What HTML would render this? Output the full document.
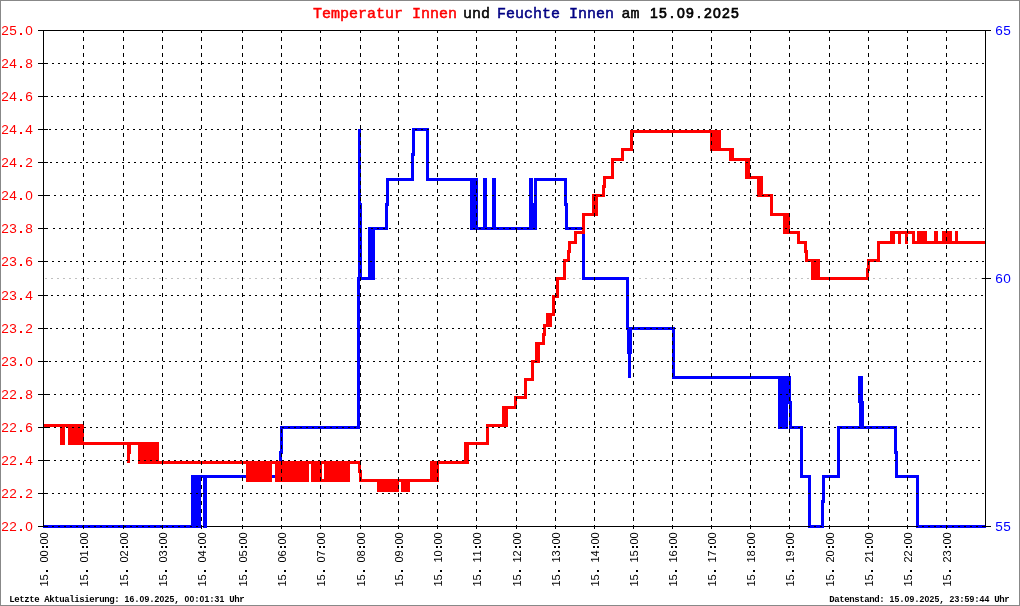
<!DOCTYPE html>
<html><head><meta charset="utf-8"><title>Temperatur Innen und Feuchte Innen</title>
<style>
html,body{margin:0;padding:0;background:#fff;}
body{width:1020px;height:606px;overflow:hidden;font-family:"Liberation Mono",monospace;}
svg{display:block;position:absolute;left:0;top:0;}
text{font-family:"Liberation Mono",monospace;}
.ax{font-size:13.6px;font-family:"Liberation Sans",sans-serif;text-anchor:middle;}
.xl{font-size:11px;fill:#000;font-family:"Liberation Sans",sans-serif;text-anchor:middle;}
.ft{font-size:9px;fill:#000;font-weight:bold;text-anchor:middle;}
.fd{font-size:8.6px;fill:#000;font-weight:bold;text-anchor:middle;font-family:"Liberation Sans",sans-serif;}
.ti{font-size:15px;font-weight:normal;stroke-width:0.5px;paint-order:stroke;}
.td{font-size:14px;font-weight:normal;stroke-width:0.7px;paint-order:stroke;text-anchor:middle;font-family:"Liberation Sans",sans-serif;}
</style></head><body>
<svg width="1020" height="606" viewBox="0 0 1020 606">
<rect x="0" y="0" width="1020" height="606" fill="#ffffff"/>
<g shape-rendering="crispEdges" stroke="#000" stroke-width="1" fill="none">
<path d="M45 278.5H983" stroke="#c0c0c0" stroke-dasharray="2 4"/>
<path d="M38 526.5H991"/>
</g>
<g shape-rendering="crispEdges">
<path d="M43 526.5H196.5V476.5H280.5V452H281.5V427.5H358.5V278.5H372.5V228.5H386.5V204H387.5V179.5H412.5V154H413.5V129.5H427.5V179.5H473.5V228.5H535.5V179.5H565.5V204H566.5V228.5H583.5V278.5H627.5V328.5H673.5V377.5H789.5V402H790.5V427.5H801.5V476.5H809.5V526.5H822.5V501H823.5V476.5H838.5V427.5H895.5V452H896.5V476.5H917.5V526.5H985.5" fill="none" stroke="#0000ff" stroke-width="3" stroke-linejoin="miter"/>
<path d="M191.3 475H200.8V528H191.3ZM203.3 475H207V528H203.3ZM358 129H361V206H358ZM358 203H362V280H358ZM357 277H360V429H357ZM368.3 227H375V280H368.3ZM469.7 178H477.7V230H469.7ZM483 178H487V230H483ZM491.7 178H495.5V230H491.7ZM529.2 178H533V230H529.2ZM534 178H537V230H534ZM532.5 203H534.5V230H532.5ZM627 327H632V354H627ZM628 327H631V378H628ZM778.3 376H787.5V429H778.3ZM787.5 376H790V403H787.5ZM789 401H792V429H789ZM858.4 376H862.5V403H858.4ZM859.4 401H863.6V429H859.4Z" fill="#0000ff" stroke="none"/>
<path d="M43 425.5H82.5V443.5H157.5V462.5H359.5V471H360.5V480.5H431.5V462.5H465.5V443.5H487.5V425.5H503.5V407.5H515.5V397.5H525.5V379.5H532.5V361.5H537.5V343.5H543.5V334H544.5V325.5H549.5V314.5H553.5V296.5H557.5V278.5H564.5V260.5H568.5V251H569.5V242.5H575.5V232.5H583.5V214.5H594.5V195.5H603.5V186H604.5V177.5H612.5V159.5H622.5V149.5H631.5V131.5H715.5V149.5H732.5V159.5H747.5V177.5H760.5V195.5H771.5V214.5H787.5V232.5H798.5V242.5H805.5V251H806.5V260.5H815.5V278.5H867.5V269H868.5V260.5H878.5V242.5H892.5V232.5H913.5V242.5H985.5" fill="none" stroke="#ff0000" stroke-width="3" stroke-linejoin="miter"/>
<path d="M60 424H65V445H60ZM68.3 424H83.7V445H68.3ZM127 442H131V454H127ZM127 451H130V463H127ZM138 442H158.7V464H138ZM246.3 461H272V482H246.3ZM274.5 461H308.7V482H274.5ZM311.3 461H321.8V482H311.3ZM321.8 479H323.8V482H321.8ZM323.8 461H350V482H323.8ZM377 479H399V492H377ZM401 479H410V492H401ZM430.3 461H438.6V482H430.3ZM463.7 442H468.7V464H463.7ZM501.7 406H507.8V427H501.7ZM535.3 342H539.7V363H535.3ZM546.3 313H552V327H546.3ZM592.3 194H597.5V216H592.3ZM710.4 130H720.8V151H710.4ZM729.2 148H734.3V161H729.2ZM744.7 158H749.7V179H744.7ZM757.2 176H763V197H757.2ZM783.3 213H790V234H783.3ZM811.3 259H819.5V280H811.3ZM889.5 231H894.7V244H889.5ZM897.6 231H900.8V244H897.6ZM905 231H907.9V244H905ZM916.5 231H926.5V244H916.5ZM934.1 231H937.6V244H934.1ZM942 231H951.8V244H942ZM955 231H958.2V244H955Z" fill="#ff0000" stroke="none"/>
</g>
<g shape-rendering="crispEdges" stroke="#000" stroke-width="1" fill="none">
<path d="M52 63.5H984" stroke-dasharray="2 4"/>
<path d="M51 96.5H984" stroke-dasharray="2 4"/>
<path d="M49 129.5H984" stroke-dasharray="2 4"/>
<path d="M50 162.5H984" stroke-dasharray="2 4"/>
<path d="M48 195.5H984" stroke-dasharray="2 4"/>
<path d="M53 228.5H984" stroke-dasharray="2 4"/>
<path d="M52 261.5H984" stroke-dasharray="2 4"/>
<path d="M51 295.5H984" stroke-dasharray="2 4"/>
<path d="M50 328.5H984" stroke-dasharray="2 4"/>
<path d="M49 361.5H984" stroke-dasharray="2 4"/>
<path d="M48 394.5H984" stroke-dasharray="2 4"/>
<path d="M48 427.5H984" stroke-dasharray="2 4"/>
<path d="M48 460.5H984" stroke-dasharray="2 4"/>
<path d="M52 493.5H984" stroke-dasharray="2 4"/>
<path d="M52 526.5H985" stroke-dasharray="2 4"/>
<path d="M83.5 31V529" stroke-dasharray="4 4" stroke-dashoffset="2"/>
<path d="M123.5 31V529" stroke-dasharray="4 4" stroke-dashoffset="2"/>
<path d="M162.5 31V529" stroke-dasharray="4 4" stroke-dashoffset="2"/>
<path d="M201.5 31V529" stroke-dasharray="4 4" stroke-dashoffset="2"/>
<path d="M242.5 31V529" stroke-dasharray="4 4" stroke-dashoffset="2"/>
<path d="M281.5 31V529" stroke-dasharray="4 4" stroke-dashoffset="2"/>
<path d="M320.5 31V529" stroke-dasharray="4 4" stroke-dashoffset="2"/>
<path d="M360.5 31V529" stroke-dasharray="4 4" stroke-dashoffset="2"/>
<path d="M398.5 31V529" stroke-dasharray="4 4" stroke-dashoffset="2"/>
<path d="M437.5 31V529" stroke-dasharray="4 4" stroke-dashoffset="2"/>
<path d="M476.5 31V529" stroke-dasharray="4 4" stroke-dashoffset="2"/>
<path d="M516.5 31V529" stroke-dasharray="4 4" stroke-dashoffset="2"/>
<path d="M555.5 31V529" stroke-dasharray="4 4" stroke-dashoffset="2"/>
<path d="M594.5 31V529" stroke-dasharray="4 4" stroke-dashoffset="2"/>
<path d="M633.5 31V529" stroke-dasharray="4 4" stroke-dashoffset="2"/>
<path d="M672.5 31V529" stroke-dasharray="4 4" stroke-dashoffset="2"/>
<path d="M711.5 31V529" stroke-dasharray="4 4" stroke-dashoffset="2"/>
<path d="M750.5 31V529" stroke-dasharray="4 4" stroke-dashoffset="2"/>
<path d="M789.5 31V529" stroke-dasharray="4 4" stroke-dashoffset="2"/>
<path d="M829.5 31V529" stroke-dasharray="4 4" stroke-dashoffset="2"/>
<path d="M868.5 31V529" stroke-dasharray="4 4" stroke-dashoffset="2"/>
<path d="M907.5 31V529" stroke-dasharray="4 4" stroke-dashoffset="2"/>
<path d="M946.5 31V529" stroke-dasharray="4 4" stroke-dashoffset="2"/>
<path d="M38 30.5H991"/>
<path d="M43.5 30V527"/>
<path d="M985.5 30V527"/>
<path d="M38 63.5H48"/>
<path d="M38 96.5H48"/>
<path d="M38 129.5H48"/>
<path d="M38 162.5H48"/>
<path d="M38 195.5H48"/>
<path d="M38 228.5H48"/>
<path d="M38 261.5H48"/>
<path d="M38 295.5H48"/>
<path d="M38 328.5H48"/>
<path d="M38 361.5H48"/>
<path d="M38 394.5H48"/>
<path d="M38 427.5H48"/>
<path d="M38 460.5H48"/>
<path d="M38 493.5H48"/>
<path d="M38 526.5H48"/>
<path d="M982 278.5H991"/>
<path d="M982 526.5H991"/>
</g>
<g shape-rendering="crispEdges" fill="none" stroke="#888888" stroke-width="1"><rect x="0.5" y="0.5" width="1019" height="605"/></g>
<g opacity="0.999">
<text class="ax" x="5 13 29" y="35" fill="#ff0000">250</text>
<rect shape-rendering="crispEdges" x="20" y="33" width="2" height="2" fill="#ff0000"/>
<text class="ax" x="5 13 29" y="68" fill="#ff0000">248</text>
<rect shape-rendering="crispEdges" x="20" y="66" width="2" height="2" fill="#ff0000"/>
<text class="ax" x="5 13 29" y="101" fill="#ff0000">246</text>
<rect shape-rendering="crispEdges" x="20" y="99" width="2" height="2" fill="#ff0000"/>
<text class="ax" x="5 13 29" y="134" fill="#ff0000">244</text>
<rect shape-rendering="crispEdges" x="20" y="132" width="2" height="2" fill="#ff0000"/>
<text class="ax" x="5 13 29" y="167" fill="#ff0000">242</text>
<rect shape-rendering="crispEdges" x="20" y="165" width="2" height="2" fill="#ff0000"/>
<text class="ax" x="5 13 29" y="200" fill="#ff0000">240</text>
<rect shape-rendering="crispEdges" x="20" y="198" width="2" height="2" fill="#ff0000"/>
<text class="ax" x="5 13 29" y="233" fill="#ff0000">238</text>
<rect shape-rendering="crispEdges" x="20" y="231" width="2" height="2" fill="#ff0000"/>
<text class="ax" x="5 13 29" y="266" fill="#ff0000">236</text>
<rect shape-rendering="crispEdges" x="20" y="264" width="2" height="2" fill="#ff0000"/>
<text class="ax" x="5 13 29" y="300" fill="#ff0000">234</text>
<rect shape-rendering="crispEdges" x="20" y="298" width="2" height="2" fill="#ff0000"/>
<text class="ax" x="5 13 29" y="333" fill="#ff0000">232</text>
<rect shape-rendering="crispEdges" x="20" y="331" width="2" height="2" fill="#ff0000"/>
<text class="ax" x="5 13 29" y="366" fill="#ff0000">230</text>
<rect shape-rendering="crispEdges" x="20" y="364" width="2" height="2" fill="#ff0000"/>
<text class="ax" x="5 13 29" y="399" fill="#ff0000">228</text>
<rect shape-rendering="crispEdges" x="20" y="397" width="2" height="2" fill="#ff0000"/>
<text class="ax" x="5 13 29" y="432" fill="#ff0000">226</text>
<rect shape-rendering="crispEdges" x="20" y="430" width="2" height="2" fill="#ff0000"/>
<text class="ax" x="5 13 29" y="465" fill="#ff0000">224</text>
<rect shape-rendering="crispEdges" x="20" y="463" width="2" height="2" fill="#ff0000"/>
<text class="ax" x="5 13 29" y="498" fill="#ff0000">222</text>
<rect shape-rendering="crispEdges" x="20" y="496" width="2" height="2" fill="#ff0000"/>
<text class="ax" x="5 13 29" y="531" fill="#ff0000">220</text>
<rect shape-rendering="crispEdges" x="20" y="529" width="2" height="2" fill="#ff0000"/>
<text class="ax" x="999 1007" y="35" fill="#0000ff">65</text>
<text class="ax" x="999 1007" y="283" fill="#0000ff">60</text>
<text class="ax" x="999 1007" y="531" fill="#0000ff">55</text>
<text class="xl" transform="translate(48,586.5) rotate(-90)" x="3 9 27 33 45 51" y="0">150000</text>
<path shape-rendering="crispEdges" fill="#000" d="M46 570h2v2h-2zM46 546h2v2h-2zM42 546h2v2h-2z"/>
<text class="xl" transform="translate(88,586.5) rotate(-90)" x="3 9 27 33 45 51" y="0">150100</text>
<path shape-rendering="crispEdges" fill="#000" d="M86 570h2v2h-2zM86 546h2v2h-2zM82 546h2v2h-2z"/>
<text class="xl" transform="translate(128,586.5) rotate(-90)" x="3 9 27 33 45 51" y="0">150200</text>
<path shape-rendering="crispEdges" fill="#000" d="M126 570h2v2h-2zM126 546h2v2h-2zM122 546h2v2h-2z"/>
<text class="xl" transform="translate(167,586.5) rotate(-90)" x="3 9 27 33 45 51" y="0">150300</text>
<path shape-rendering="crispEdges" fill="#000" d="M165 570h2v2h-2zM165 546h2v2h-2zM161 546h2v2h-2z"/>
<text class="xl" transform="translate(206,586.5) rotate(-90)" x="3 9 27 33 45 51" y="0">150400</text>
<path shape-rendering="crispEdges" fill="#000" d="M204 570h2v2h-2zM204 546h2v2h-2zM200 546h2v2h-2z"/>
<text class="xl" transform="translate(247,586.5) rotate(-90)" x="3 9 27 33 45 51" y="0">150500</text>
<path shape-rendering="crispEdges" fill="#000" d="M245 570h2v2h-2zM245 546h2v2h-2zM241 546h2v2h-2z"/>
<text class="xl" transform="translate(286,586.5) rotate(-90)" x="3 9 27 33 45 51" y="0">150600</text>
<path shape-rendering="crispEdges" fill="#000" d="M284 570h2v2h-2zM284 546h2v2h-2zM280 546h2v2h-2z"/>
<text class="xl" transform="translate(325,586.5) rotate(-90)" x="3 9 27 33 45 51" y="0">150700</text>
<path shape-rendering="crispEdges" fill="#000" d="M323 570h2v2h-2zM323 546h2v2h-2zM319 546h2v2h-2z"/>
<text class="xl" transform="translate(365,586.5) rotate(-90)" x="3 9 27 33 45 51" y="0">150800</text>
<path shape-rendering="crispEdges" fill="#000" d="M363 570h2v2h-2zM363 546h2v2h-2zM359 546h2v2h-2z"/>
<text class="xl" transform="translate(403,586.5) rotate(-90)" x="3 9 27 33 45 51" y="0">150900</text>
<path shape-rendering="crispEdges" fill="#000" d="M401 570h2v2h-2zM401 546h2v2h-2zM397 546h2v2h-2z"/>
<text class="xl" transform="translate(442,586.5) rotate(-90)" x="3 9 27 33 45 51" y="0">151000</text>
<path shape-rendering="crispEdges" fill="#000" d="M440 570h2v2h-2zM440 546h2v2h-2zM436 546h2v2h-2z"/>
<text class="xl" transform="translate(481,586.5) rotate(-90)" x="3 9 27 33 45 51" y="0">151100</text>
<path shape-rendering="crispEdges" fill="#000" d="M479 570h2v2h-2zM479 546h2v2h-2zM475 546h2v2h-2z"/>
<text class="xl" transform="translate(521,586.5) rotate(-90)" x="3 9 27 33 45 51" y="0">151200</text>
<path shape-rendering="crispEdges" fill="#000" d="M519 570h2v2h-2zM519 546h2v2h-2zM515 546h2v2h-2z"/>
<text class="xl" transform="translate(560,586.5) rotate(-90)" x="3 9 27 33 45 51" y="0">151300</text>
<path shape-rendering="crispEdges" fill="#000" d="M558 570h2v2h-2zM558 546h2v2h-2zM554 546h2v2h-2z"/>
<text class="xl" transform="translate(599,586.5) rotate(-90)" x="3 9 27 33 45 51" y="0">151400</text>
<path shape-rendering="crispEdges" fill="#000" d="M597 570h2v2h-2zM597 546h2v2h-2zM593 546h2v2h-2z"/>
<text class="xl" transform="translate(638,586.5) rotate(-90)" x="3 9 27 33 45 51" y="0">151500</text>
<path shape-rendering="crispEdges" fill="#000" d="M636 570h2v2h-2zM636 546h2v2h-2zM632 546h2v2h-2z"/>
<text class="xl" transform="translate(677,586.5) rotate(-90)" x="3 9 27 33 45 51" y="0">151600</text>
<path shape-rendering="crispEdges" fill="#000" d="M675 570h2v2h-2zM675 546h2v2h-2zM671 546h2v2h-2z"/>
<text class="xl" transform="translate(716,586.5) rotate(-90)" x="3 9 27 33 45 51" y="0">151700</text>
<path shape-rendering="crispEdges" fill="#000" d="M714 570h2v2h-2zM714 546h2v2h-2zM710 546h2v2h-2z"/>
<text class="xl" transform="translate(755,586.5) rotate(-90)" x="3 9 27 33 45 51" y="0">151800</text>
<path shape-rendering="crispEdges" fill="#000" d="M753 570h2v2h-2zM753 546h2v2h-2zM749 546h2v2h-2z"/>
<text class="xl" transform="translate(794,586.5) rotate(-90)" x="3 9 27 33 45 51" y="0">151900</text>
<path shape-rendering="crispEdges" fill="#000" d="M792 570h2v2h-2zM792 546h2v2h-2zM788 546h2v2h-2z"/>
<text class="xl" transform="translate(834,586.5) rotate(-90)" x="3 9 27 33 45 51" y="0">152000</text>
<path shape-rendering="crispEdges" fill="#000" d="M832 570h2v2h-2zM832 546h2v2h-2zM828 546h2v2h-2z"/>
<text class="xl" transform="translate(873,586.5) rotate(-90)" x="3 9 27 33 45 51" y="0">152100</text>
<path shape-rendering="crispEdges" fill="#000" d="M871 570h2v2h-2zM871 546h2v2h-2zM867 546h2v2h-2z"/>
<text class="xl" transform="translate(912,586.5) rotate(-90)" x="3 9 27 33 45 51" y="0">152200</text>
<path shape-rendering="crispEdges" fill="#000" d="M910 570h2v2h-2zM910 546h2v2h-2zM906 546h2v2h-2z"/>
<text class="xl" transform="translate(951,586.5) rotate(-90)" x="3 9 27 33 45 51" y="0">152300</text>
<path shape-rendering="crispEdges" fill="#000" d="M949 570h2v2h-2zM949 546h2v2h-2zM945 546h2v2h-2z"/>
<text class="ti" y="18"><tspan x="313" fill="#ff0000" stroke="#ff0000">Temperatur Innen</tspan><tspan x="463" fill="#000000" stroke="#000000">und</tspan><tspan x="497" fill="#000084" stroke="#000084">Feuchte Innen</tspan><tspan x="621.5" fill="#000000" stroke="#000000">am</tspan></text>
<text class="td" y="18" x="654 663 672 681 690 699 708 717 726 735" fill="#000" stroke="#000">15.09.2025</text>
<text class="ft" x="12 17 22 27 32 37 47 52 57 62 67 72 77 82 87 92 97 102 107 112 117 137 152 177 197 212 232 237 242" y="602">LetzteAktualisierung:..,::Uhr</text>
<text class="fd" x="127 132 142 147 157 162 167 172 187 192 202 207 217 222" y="602">16092025000131</text>
<text class="ft" x="832 837 842 847 852 857 862 867 872 877 882 902 917 942 962 977 997 1002 1007" y="602">Datenstand:..,::Uhr</text>
<text class="fd" x="892 897 907 912 922 927 932 937 952 957 967 972 982 987" y="602">15092025235944</text>
</g>
</svg>
</body></html>
